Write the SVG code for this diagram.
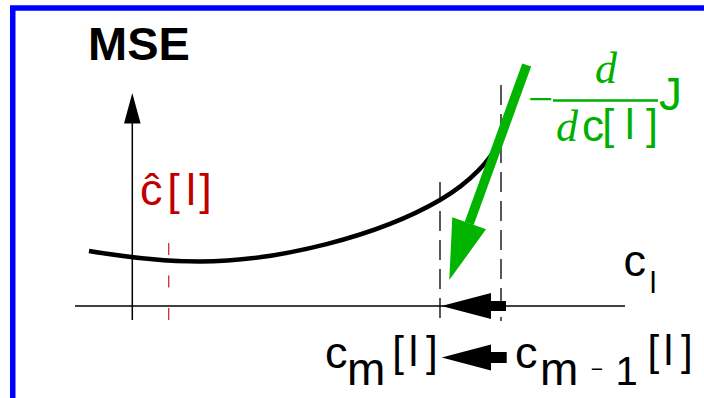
<svg xmlns="http://www.w3.org/2000/svg" width="704" height="398" viewBox="0 0 704 398">
<style>
.sans{font-family:"Liberation Sans",Arial,sans-serif}
.serif{font-family:"Liberation Serif","Times New Roman",serif;font-style:italic}
.blk{fill:#000}
.red{fill:#c00000}
.grn{fill:#00b000}
.axis{stroke:#000;stroke-width:1.5;fill:none}
.dash{stroke:#000;stroke-width:1.3;stroke-dasharray:20 9;fill:none}
</style>
<rect x="0" y="0" width="704" height="398" fill="#fff"/>
<rect id="frame" x="12.75" y="8" width="720" height="420" fill="none" stroke="#0000ff" stroke-width="5.5"/>

<g id="axes">
  <line class="axis" x1="132.3" y1="120" x2="132.3" y2="320"/>
  <polygon points="132.3,93 124,123.5 140.6,123.5" fill="#000"/>
  <line class="axis" x1="75" y1="306" x2="625" y2="306"/>
</g>

<g id="guides">
  <line x1="168.7" y1="243" x2="168.7" y2="320" stroke="#c83030" stroke-width="1.3" stroke-dasharray="12 20.5"/>
  <line class="dash" x1="440" y1="182" x2="440" y2="321"/>
  <line class="dash" x1="501" y1="85" x2="501" y2="321"/>
</g>

<g id="curve">
  <path d="M89,251 C125,257 165,261.5 200,261.5 C280,261.5 380,235 440,200 C460,188.3 500,160 506,120" fill="none" stroke="#000" stroke-width="4.5"/>
</g>

<g id="connectors">
  <g id="gradient-arrow">
    <line x1="526.7" y1="65" x2="469.2" y2="223.3" stroke="#00b400" stroke-width="9.5"/>
    <polygon points="449.3,280 452.3,217.3 486,229.3" fill="#00b400"/>
  </g>
  <g id="step-arrow-axis">
    <polygon points="441.5,306 491,293 491,301 506,301 506,311 491,311 491,319" fill="#000"/>
  </g>
  <g id="step-arrow-label">
    <polygon points="441.7,357.5 491,344.5 491,352 506.7,352 506.7,363 491,363 491,370.5" fill="#000"/>
  </g>
</g>

<g id="label-mse">
  <text class="sans blk" x="88" y="60" font-size="47" font-weight="bold">MSE</text>
</g>

<g id="label-chat">
  <text class="sans red" font-size="45" x="140" y="205">ĉ</text>
  <text class="sans red" font-size="45" x="167.2 186 199.3" y="205">[l]</text>
</g>

<g id="label-cl">
  <text class="sans blk" font-size="45" x="623.4" y="276">c</text>
  <text class="sans blk" font-size="30" x="649.7" y="293">l</text>
</g>

<g id="label-cm">
  <text class="sans blk" font-size="45" x="325" y="368">c</text>
  <text class="sans blk" font-size="46" x="347" y="385">m</text>
  <text class="sans blk" font-size="42" x="392.2 408.7 426" y="366">[l]</text>
</g>

<g id="label-cm1">
  <text class="sans blk" font-size="45" x="515" y="368">c</text>
  <text class="sans blk" font-size="46" x="540" y="385">m</text>
  <text class="sans blk" font-size="21" x="590.7" y="376">−</text>
  <text class="sans blk" font-size="40" x="615.6" y="385">1</text>
  <text class="sans blk" font-size="42" x="647.5 663.7 681" y="365">[l]</text>
</g>

<g id="label-gradient">
  <text class="serif grn" font-style="normal" font-size="45" x="528" y="114" style="font-style:normal">−</text>
  <line x1="553" y1="100.5" x2="658" y2="100.5" stroke="#00b000" stroke-width="2.5"/>
  <text class="serif grn" font-size="44" x="606" y="83" text-anchor="middle">d</text>
  <text class="serif grn" font-size="44" x="556" y="141">d</text>
  <text class="sans grn" font-size="44" x="582" y="141">c</text>
  <text class="sans grn" font-size="43" x="602.3 625 646" y="139">[l]</text>
  <text class="sans grn" font-size="46" x="659" y="110">J</text>
</g>
</svg>
